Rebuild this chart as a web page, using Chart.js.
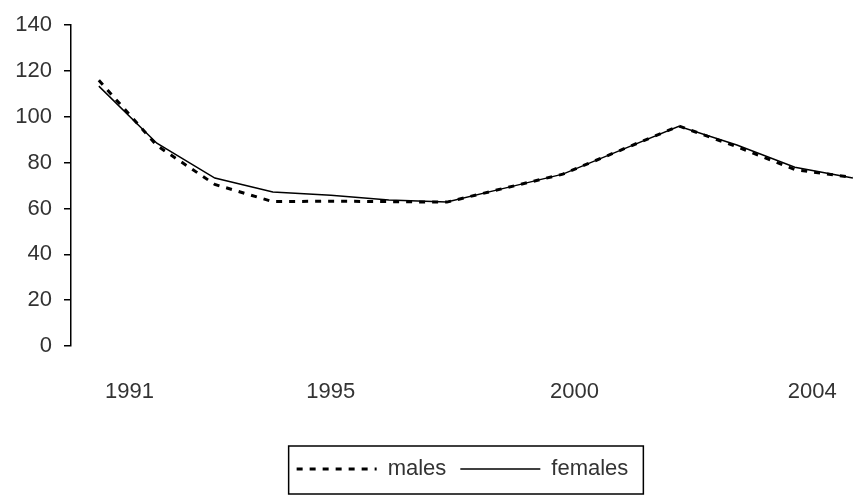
<!DOCTYPE html>
<html lang="en">
<head>
<meta charset="UTF-8">
<meta name="viewport" content="width=device-width, initial-scale=1.0">
<title>males / females</title>
<style>
    html, body {
        margin: 0;
        padding: 0;
        background: #fff;
    }
    #chartContainer {
        width: 854px;
        height: 497px;
    }
</style>
<script src="https://cdn.jsdelivr.net/npm/chart.js"></script>
</head>
<body>

<div id="chartContainer">
    <canvas id="lineChart"></canvas>
</div>

<script>
    // one observation per year, 1991 ... 2004
    const obs = [0, 1, 2, 3, 4, 5, 6, 7, 8, 9, 10, 11, 12, 13];
    const males   = [116, 87.5, 70.5, 63, 63.2, 63, 62.8, 68.9, 75, 85.5, 96, 87, 77, 73.5];
    const females = [113.4, 88.5, 73.3, 67.2, 65.8, 63.7, 62.8, 68.9, 75, 85.5, 95.9, 87.7, 78, 73.3];

    // labels under the axis and where they sit (in observation units)
    const yearLabels = ['1991', '1995', '2000', '2004'];
    const yearLabelAt = [0.53, 4, 8.2, 12.3];

    const textColor = '#333';
    const fontFamily = '"Liberation Sans", Arial, sans-serif';

    // frame round the legend, like the original
    const legendFrame = {
        id: 'legendFrame',
        afterDraw(chart) {
            const boxes = chart.legend && chart.legend.legendHitBoxes;
            if (!boxes || !boxes.length) return;
            const left = Math.min(...boxes.map(b => b.left)) - 8;
            const right = Math.max(...boxes.map(b => b.left + b.width)) + 15;
            const top = Math.min(...boxes.map(b => b.top)) - 12;
            const bottom = Math.max(...boxes.map(b => b.top + b.height)) + 14;
            const ctx = chart.ctx;
            ctx.save();
            ctx.strokeStyle = '#000';
            ctx.lineWidth = 1.5;
            ctx.setLineDash([]);
            ctx.strokeRect(left, top, right - left, bottom - top);
            ctx.restore();
        }
    };

    const ctx = document.getElementById('lineChart').getContext('2d');
    new Chart(ctx, {
        type: 'line',
        data: {
            labels: obs,
            datasets: [
                {
                    label: 'males',
                    data: obs.map((x, i) => ({ x: x, y: males[i] })),
                    borderColor: '#000',
                    backgroundColor: '#000',
                    borderWidth: 3,
                    borderDash: [6, 7],
                    pointRadius: 0,
                    tension: 0
                },
                {
                    label: 'females',
                    data: obs.map((x, i) => ({ x: x, y: females[i] })),
                    borderColor: '#000',
                    backgroundColor: '#000',
                    borderWidth: 1.5,
                    pointRadius: 0,
                    tension: 0
                }
            ]
        },
        options: {
            responsive: true,
            maintainAspectRatio: false,
            animation: false,
            layout: {
                padding: { top: 12, right: 0, bottom: 7, left: 0 }
            },
            scales: {
                x: {
                    type: 'linear',
                    min: -0.48,
                    max: 13.02,
                    afterBuildTicks(scale) {
                        scale.ticks = yearLabelAt.map(v => ({ value: v }));
                    },
                    afterFit(scale) {
                        scale.height = 98;
                        scale.paddingLeft = 0;
                        scale.paddingRight = 0;
                    },
                    grid: { display: false },
                    border: { display: false },
                    ticks: {
                        autoSkip: false,
                        maxRotation: 0,
                        padding: 25,
                        color: textColor,
                        font: { family: fontFamily, size: 22 },
                        callback: (value, index) => yearLabels[index]
                    }
                },
                y: {
                    min: 0,
                    max: 140,
                    afterFit(scale) {
                        scale.width = 71;
                    },
                    grid: {
                        drawOnChartArea: false,
                        drawTicks: true,
                        tickLength: 7,
                        color: '#000',
                        lineWidth: 1.5
                    },
                    border: { display: true, color: '#000', width: 1.5 },
                    ticks: {
                        stepSize: 20,
                        padding: 12,
                        color: textColor,
                        font: { family: fontFamily, size: 22 }
                    }
                }
            },
            plugins: {
                legend: {
                    display: true,
                    position: 'bottom',
                    fullSize: false,
                    labels: {
                        usePointStyle: true,
                        pointStyle: 'line',
                        pointStyleWidth: 80,
                        padding: 14,
                        color: textColor,
                        font: { family: fontFamily, size: 22 },
                        // the line sample needs the dataset's dash and width
                        generateLabels(chart) {
                            const items = Chart.defaults.plugins.legend.labels.generateLabels(chart);
                            items.forEach(item => {
                                const ds = chart.data.datasets[item.datasetIndex];
                                item.lineDash = ds.borderDash || [];
                                item.lineWidth = ds.borderWidth;
                                item.strokeStyle = ds.borderColor;
                            });
                            return items;
                        }
                    }
                },
                tooltip: { enabled: false }
            }
        },
        plugins: [legendFrame]
    });
</script>

</body>
</html>
